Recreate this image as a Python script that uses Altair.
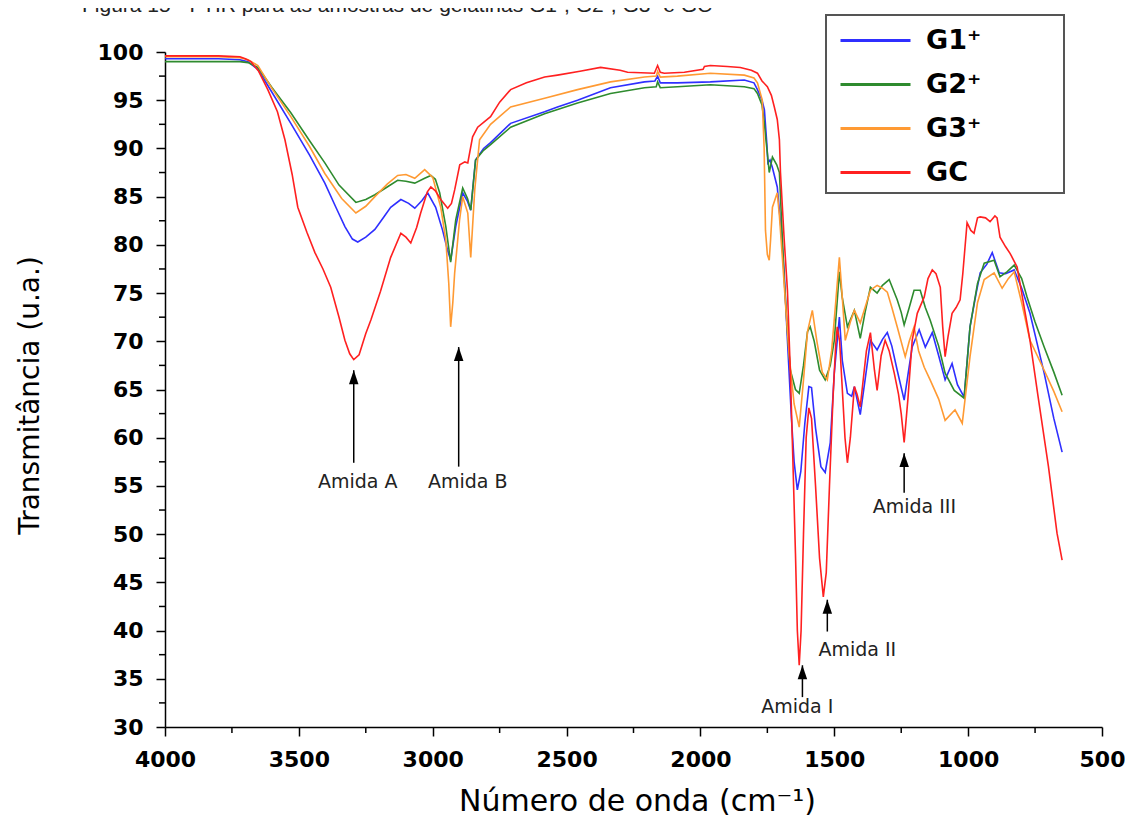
import altair as alt
import pandas as pd

# ---------------- data ----------------
series_names = ["G1⁺", "G2⁺", "G3⁺", "GC"]
series_colors = ["#2f2fff", "#2e8b2e", "#ff9a33", "#ff2020"]

g1_wn = [4000, 3900, 3800, 3720, 3690, 3653, 3600, 3530, 3460, 3403, 3360, 3328, 3300, 3280, 3250, 3216,
         3180, 3157, 3119, 3090, 3067, 3040, 3019, 2989, 2963, 2945, 2933, 2914, 2888, 2870, 2858, 2840,
         2810, 2784, 2709, 2582, 2534, 2459, 2336, 2209, 2170, 2160, 2150, 2086, 1963, 1836, 1800, 1787,
         1770, 1761, 1752, 1748, 1740, 1731, 1713, 1700, 1687, 1675, 1660, 1650, 1638, 1625, 1610, 1595,
         1585, 1570, 1550, 1534, 1515, 1500, 1481, 1470, 1451, 1435, 1425, 1403, 1385, 1365, 1340, 1320,
         1302, 1285, 1265, 1239, 1225, 1209, 1183, 1160, 1134, 1110, 1086, 1060, 1040, 1015, 993, 970,
         955, 930, 910, 884, 860, 828, 800, 769, 740, 716, 680, 649]
g1_val = [99.3, 99.3, 99.3, 99.2, 99.0, 98.2, 95.8, 92.6, 89.3, 86.4, 83.8, 81.9, 80.6, 80.3, 80.8, 81.6,
          83.0, 83.9, 84.7, 84.3, 83.8, 84.6, 85.4, 83.9, 81.5, 79.5, 78.4, 81.9, 85.4, 84.5, 83.6, 88.8,
          90.0, 90.6, 92.6, 93.8, 94.3, 95.0, 96.3, 96.9, 97.0, 97.5, 96.8, 96.8, 96.9, 97.1, 96.8, 96.1,
          95.0, 94.0, 90.5, 88.5, 88.8, 88.0, 86.0, 82.0, 77.1, 70.1, 62.0, 57.5, 54.6, 56.5, 61.5, 65.3,
          65.2, 61.0, 57.0, 56.4, 59.5, 66.7, 72.5, 68.0, 64.6, 64.3, 65.3, 62.4, 66.0, 70.1, 69.1, 70.2,
          70.9, 69.5, 67.0, 63.9, 66.5, 69.4, 71.2, 69.4, 70.9, 68.5, 66.0, 67.7, 65.5, 64.2, 71.5, 75.0,
          77.1, 78.0, 79.2, 77.1, 77.0, 77.4, 75.5, 72.9, 69.5, 66.7, 62.0, 58.5]

g2_wn = [4000, 3800, 3720, 3690, 3653, 3600, 3530, 3460, 3403, 3350, 3287, 3250, 3216, 3170, 3131, 3100,
         3067, 3030, 3007, 2990, 2974, 2951, 2933, 2914, 2888, 2870, 2858, 2840, 2810, 2784, 2709, 2582,
         2459, 2336, 2209, 2165, 2160, 2150, 2086, 1963, 1836, 1800, 1787, 1770, 1761, 1755, 1750, 1743,
         1731, 1715, 1705, 1687, 1675, 1664, 1645, 1631, 1615, 1600, 1590, 1575, 1555, 1534, 1515, 1500,
         1481, 1470, 1451, 1425, 1403, 1385, 1365, 1340, 1320, 1295, 1265, 1250, 1239, 1220, 1202, 1179,
         1160, 1142, 1110, 1086, 1052, 1015, 993, 965, 940, 903, 881, 855, 828, 800, 780, 750, 716, 680, 649]
g2_val = [99.0, 99.0, 99.0, 98.9, 98.4, 96.3, 93.7, 90.8, 88.5, 86.2, 84.4, 84.7, 85.2, 86.0, 86.7, 86.6,
          86.4, 86.9, 87.2, 86.8, 85.4, 81.9, 78.2, 82.6, 85.9, 84.8, 83.6, 88.8, 89.8, 90.4, 92.2, 93.6,
          94.7, 95.7, 96.3, 96.4, 96.9, 96.3, 96.4, 96.6, 96.4, 96.2, 95.7, 94.5, 92.6, 90.8, 89.5, 87.5,
          89.1, 88.3, 87.5, 76.4, 71.0, 67.0, 65.0, 64.6, 67.5, 71.0, 71.5, 70.0, 67.0, 66.0, 67.5, 70.1,
          77.2, 74.5, 71.5, 73.2, 70.3, 73.0, 75.6, 75.0, 75.8, 76.4, 74.3, 73.0, 71.7, 73.5, 75.3, 75.3,
          73.5, 72.2, 69.5, 66.7, 64.9, 64.1, 71.5, 76.0, 78.1, 78.4, 76.7, 77.2, 77.9, 76.5, 74.6, 72.0,
          69.4, 66.8, 64.4]

g3_wn = [4000, 3800, 3720, 3690, 3653, 3600, 3530, 3460, 3403, 3340, 3287, 3250, 3216, 3170, 3131, 3100,
         3067, 3030, 3000, 2970, 2951, 2940, 2933, 2925, 2918, 2900, 2888, 2869, 2858, 2843, 2825, 2784,
         2709, 2582, 2459, 2336, 2209, 2165, 2160, 2150, 2086, 1963, 1836, 1800, 1787, 1769, 1762, 1757,
         1750, 1743, 1738, 1731, 1713, 1705, 1694, 1680, 1668, 1650, 1631, 1615, 1600, 1582, 1565, 1545,
         1526, 1510, 1496, 1481, 1470, 1459, 1440, 1425, 1403, 1385, 1365, 1340, 1320, 1302, 1285, 1265,
         1235, 1220, 1202, 1185, 1164, 1142, 1110, 1086, 1049, 1022, 993, 965, 940, 903, 873, 850, 828,
         800, 769, 716, 680, 649]
g3_val = [99.5, 99.5, 99.4, 99.2, 98.6, 96.2, 93.3, 90.2, 87.4, 84.8, 83.3, 84.0, 85.0, 86.3, 87.2, 87.3,
          86.9, 87.8, 87.0, 83.9, 80.5, 76.0, 71.5, 74.0, 77.1, 82.5, 85.0, 83.3, 78.7, 85.7, 90.9, 92.5,
          94.3, 95.2, 96.1, 96.9, 97.4, 97.5, 98.0, 97.4, 97.5, 97.8, 97.6, 97.3, 96.8, 95.0, 90.0, 81.5,
          79.0, 78.4, 80.5, 83.9, 85.4, 83.0, 78.7, 73.0, 68.4, 63.5, 61.1, 66.0, 71.0, 73.2, 70.0, 66.8,
          66.0, 69.0, 73.6, 78.7, 74.5, 70.1, 72.0, 73.2, 71.9, 73.5, 75.3, 75.8, 75.5, 75.1, 73.5, 71.5,
          68.4, 70.0, 71.5, 69.0, 67.3, 66.0, 64.0, 61.8, 62.9, 61.5, 68.4, 74.0, 76.4, 77.1, 75.5, 76.5,
          77.2, 74.0, 70.1, 67.0, 64.8, 62.7]

gc_wn = [4000, 3800, 3720, 3700, 3679, 3650, 3616, 3580, 3552, 3525, 3504, 3470, 3440, 3410, 3381, 3350,
         3328, 3310, 3295, 3275, 3250, 3231, 3195, 3157, 3119, 3100, 3082, 3060, 3045, 3020, 3007, 2990,
         2970, 2944, 2930, 2918, 2899, 2880, 2869, 2851, 2832, 2784, 2750, 2709, 2650, 2582, 2534, 2450,
         2373, 2300, 2272, 2172, 2160, 2150, 2135, 2060, 1990, 1985, 1963, 1900, 1851, 1810, 1787, 1770,
         1750, 1735, 1724, 1713, 1705, 1701, 1687, 1675, 1664, 1655, 1645, 1638, 1631, 1624, 1615, 1605,
         1595, 1585, 1570, 1555, 1541, 1530, 1518, 1505, 1495, 1489, 1480, 1470, 1460, 1451, 1440, 1425,
         1415, 1403, 1390, 1380, 1365, 1350, 1340, 1325, 1310, 1295, 1276, 1260, 1250, 1239, 1225, 1209,
         1190, 1164, 1150, 1134, 1120, 1104, 1095, 1086, 1075, 1060, 1045, 1030, 1020, 1004, 990, 978,
         965, 955, 935, 918, 900, 892, 881, 860, 843, 817, 800, 769, 740, 700, 668, 649]
gc_val = [99.6, 99.6, 99.5, 99.3, 99.0, 98.0, 96.1, 93.8, 90.9, 87.3, 83.9, 81.3, 79.2, 77.5, 75.6, 72.5,
          70.1, 68.7, 68.1, 68.6, 70.8, 72.2, 75.2, 78.7, 81.2, 80.8, 80.2, 81.8, 83.3, 85.5, 86.0, 85.6,
          84.7, 83.8, 84.3, 85.7, 88.3, 88.6, 88.5, 91.2, 92.2, 93.3, 94.8, 96.1, 96.8, 97.4, 97.6, 98.0,
          98.4, 98.1, 97.9, 97.8, 98.6, 97.9, 97.8, 97.9, 98.2, 98.5, 98.6, 98.5, 98.4, 98.1, 97.8, 97.0,
          96.4, 95.5, 94.3, 93.0, 90.9, 87.5, 80.5, 75.3, 66.7, 58.0, 48.0, 40.0, 36.4, 40.0, 50.0, 60.0,
          63.1, 62.0, 55.0, 47.5, 43.5, 46.0, 55.0, 64.0, 69.5, 71.5, 70.0, 65.0, 60.0, 57.4, 60.0, 65.3,
          64.5, 63.2, 66.5, 69.0, 70.9, 67.0, 64.9, 68.5, 70.1, 69.0, 66.7, 64.5, 62.5, 59.5, 64.0, 70.1,
          72.9, 74.6, 76.5, 77.4, 77.0, 75.6, 71.5, 68.4, 70.5, 72.9, 73.5, 74.3, 77.0, 82.3, 81.5, 81.2,
          82.8, 82.9, 82.8, 82.4, 83.0, 82.8, 80.8, 79.8, 79.1, 77.7, 75.0, 70.1, 64.5, 57.0, 50.1, 47.3]

ann_labels = ["Amida A", "Amida B", "Amida I", "Amida II", "Amida III"]
arrow_wn = [3295, 2903, 1619, 1526, 1239]
arrow_tip = [67.0, 69.4, 36.4, 43.2, 58.4]
arrow_tail = [57.4, 57.0, 33.1, 39.9, 54.3]
label_wn = [3280, 2869, 1638, 1414, 1201]
label_val = [55.4, 55.4, 32.1, 38.0, 52.8]

x_major = [4000, 3500, 3000, 2500, 2000, 1500, 1000, 500]
x_minor = [3750, 3250, 2750, 2250, 1750, 1250, 750]
y_major = [30, 35, 40, 45, 50, 55, 60, 65, 70, 75, 80, 85, 90, 95, 100]
y_minor = [32.5, 37.5, 42.5, 47.5, 52.5, 57.5, 62.5, 67.5, 72.5, 77.5, 82.5, 87.5, 92.5, 97.5]

caption = "Figura 15 - FTIR para as amostras de gelatinas G1⁺, G2⁺, G3⁺ e GC"

# ---------------- tables ----------------
frames = []
for name, wn, val in zip(series_names, [g1_wn, g2_wn, g3_wn, gc_wn], [g1_val, g2_val, g3_val, gc_val]):
    frames.append(pd.DataFrame({"series": name, "wn": wn, "val": val}))
spectra = pd.concat(frames, ignore_index=True)

ann = pd.DataFrame({"label": ann_labels, "wn": arrow_wn, "val": arrow_tip, "tail": arrow_tail,
                    "lwn": label_wn, "lval": label_val})
ymin_df = pd.DataFrame({"val": y_minor})
xmin_df = pd.DataFrame({"wn": x_minor})

W, H = 937, 675
FONT = "DejaVu Sans"

xscale = alt.Scale(domain=[500, 4000], reverse=True, nice=False, zero=False)
yscale = alt.Scale(domain=[30, 100], nice=False, zero=False)

x_axis = alt.Axis(values=x_major, format="d", grid=False, tickSize=9, tickWidth=1.5, tickColor="black",
                  domainColor="black", domainWidth=1.5, labelFont=FONT, labelFontSize=22,
                  labelFontWeight="bold", labelColor="black", labelPadding=13, labelFlush=False,
                  labelOverlap=False, title="Número de onda (cm⁻¹)", titleFont=FONT, titleFontSize=30,
                  titleFontWeight="normal", titleColor="black", titleX=472, titleY=74,
                  titleBaseline="middle", titleAlign="center")
y_axis = alt.Axis(values=y_major, format="d", grid=False, tickSize=9, tickWidth=1.5, tickColor="black",
                  domainColor="black", domainWidth=1.5, labelFont=FONT, labelFontSize=22,
                  labelFontWeight="bold", labelColor="black", labelPadding=13, labelOverlap=False,
                  title="Transmitância (u.a.)", titleFont=FONT, titleFontSize=28, titleFontWeight="normal",
                  titleColor="black", titleX=-135, titleY=343, titleAngle=270, titleBaseline="middle",
                  titleAlign="center")

X = alt.X("wn:Q", scale=xscale, axis=x_axis)
Y = alt.Y("val:Q", scale=yscale, axis=y_axis)

legend = alt.Legend(orient="none", legendX=674, legendY=-25, title=None, symbolType="stroke",
                    symbolSize=4900, symbolStrokeWidth=3, clipHeight=27, labelFont=FONT,
                    labelFontSize=27, labelFontWeight="bold", labelColor="black", labelOffset=14,
                    rowPadding=16, padding=0)

lines = alt.Chart(spectra).mark_line(strokeWidth=1.6).encode(
    x=X, y=Y,
    color=alt.Color("series:N", scale=alt.Scale(domain=series_names, range=series_colors), legend=legend),
    order="wn:Q",
)

legend_box = alt.Chart(pd.DataFrame({"k": [0]})).mark_rect(
    fill="white", fillOpacity=0, stroke="#555555", strokeWidth=2
).encode(x=alt.value(661), x2=alt.value(899), y=alt.value(-37), y2=alt.value(141))

ytick_minor = alt.Chart(ymin_df).mark_rule(color="black", strokeWidth=1.5).encode(
    y=Y, x=alt.value(-6), x2=alt.value(0))
xtick_minor = alt.Chart(xmin_df).mark_rule(color="black", strokeWidth=1.5).encode(
    x=X, y=alt.value(H), y2=alt.value(H + 6))

arrows = alt.Chart(ann).mark_rule(color="black", strokeWidth=1.5).encode(x=X, y=Y, y2="tail:Q")
heads = alt.Chart(ann).mark_point(shape="M0,0L0.75,2.2L-0.75,2.2Z", filled=True, color="black",
                                  opacity=1, size=160).encode(x=X, y=Y)
labels = alt.Chart(ann).transform_calculate(wn="datum.lwn", val="datum.lval").mark_text(
    font=FONT, fontSize=19, color="#222222", baseline="middle", align="center"
).encode(x=X, y=Y, text="label:N")

cap = alt.Chart(pd.DataFrame({"t": [caption]})).mark_text(
    font="Liberation Sans", fontSize=21, color="#222222", align="left", baseline="alphabetic"
).encode(x=alt.value(-83), y=alt.value(-40), text="t:N")

chart = alt.layer(legend_box, ytick_minor, xtick_minor, lines, arrows, heads, labels, cap).properties(
    width=W, height=H,
    autosize=alt.AutoSizeParams(type="none"),
    padding={"left": 157, "top": 44, "right": 23, "bottom": 100},
).configure_view(stroke=None)

chart.save("out.html", embed_options={"renderer": "svg", "actions": False})
